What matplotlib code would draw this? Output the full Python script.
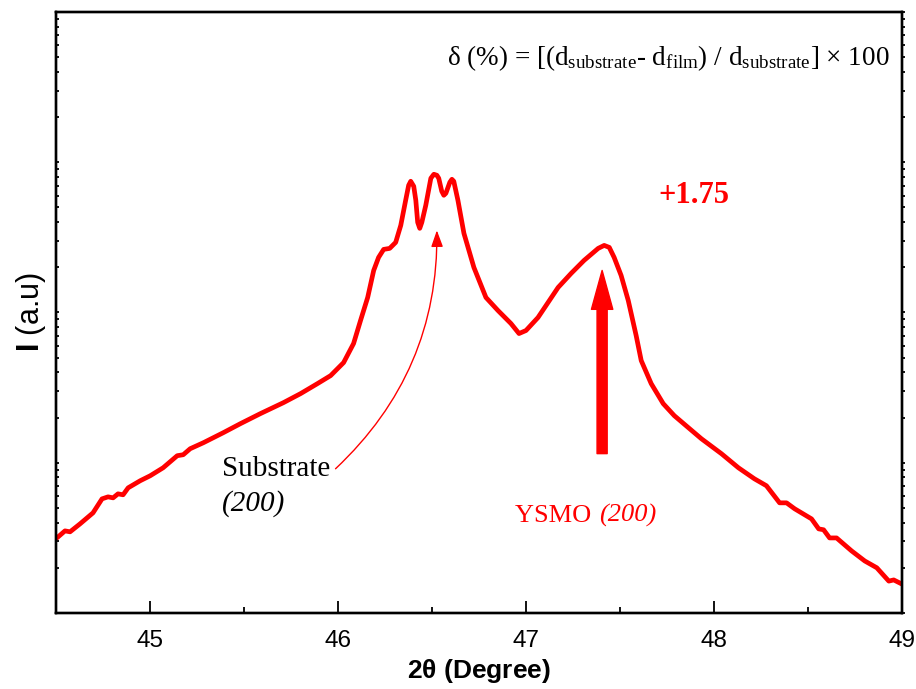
import numpy as np
import matplotlib
matplotlib.use('Agg')
import matplotlib.pyplot as plt
from matplotlib.ticker import LogLocator, NullFormatter, MultipleLocator

# 2θ (degree) 与强度 (a.u.) —— 从图上读取
two_theta = [44.505, 44.548, 44.575, 44.628, 44.697, 44.745, 44.777, 44.804, 44.830, 44.857,
             44.884, 44.948, 45.001, 45.070, 45.145, 45.177, 45.214, 45.284, 45.390, 45.481,
             45.587, 45.710, 45.801, 45.891, 45.961, 46.030, 46.083, 46.120, 46.158, 46.190,
             46.216, 46.243, 46.275, 46.307, 46.334, 46.360, 46.376, 46.387, 46.403, 46.414,
             46.424, 46.435, 46.446, 46.467, 46.494, 46.510, 46.526, 46.536, 46.552, 46.563,
             46.574, 46.595, 46.606, 46.616, 46.638, 46.670, 46.723, 46.787, 46.851, 46.920,
             46.963, 47.000, 47.064, 47.171, 47.240, 47.309, 47.384, 47.416, 47.443, 47.469,
             47.506, 47.544, 47.586, 47.613, 47.666, 47.730, 47.789, 47.864, 47.933, 48.040,
             48.130, 48.215, 48.279, 48.349, 48.386, 48.429, 48.519, 48.557, 48.583, 48.615,
             48.652, 48.732, 48.802, 48.866, 48.930, 48.956, 48.999]
intensity = [31.6, 35.2, 34.7, 39.2, 46.4, 57.5, 59.3, 58.4, 62.1, 61.2,
             68.1, 75.9, 81.9, 92.6, 111.4, 113.1, 124.0, 135.9, 158.5, 182.0,
             212.2, 251.2, 288.4, 336.3, 380.2, 464.2, 621.5, 884.6, 1259, 1905,
             2326, 2630, 2671, 2929, 3802, 5581, 7025, 7470, 6918, 5581,
             3981, 3631, 3981, 5168, 7823, 8318, 8190, 7823, 6408, 6026,
             6215, 7357, 7702, 7470, 5581, 3363, 1995, 1259, 1031, 844.7,
             724.4, 758.6, 926, 1468, 1820, 2222, 2671, 2796, 2712, 2326,
             1765, 1202, 702.5, 478.6, 336.3, 247.4, 205.7, 171.1, 144.5, 114.8,
             92.6, 78.2, 70.3, 54.1, 54.1, 49.4, 42.3, 36.3, 35.8, 31.6,
             31.6, 25.9, 22.2, 20.0, 16.3, 16.6, 15.6]

# 标注用的位置
ysmo_peak = (47.405, 1905)
ysmo_base = (47.405, 115)
sub_peak = (46.526, 3521)
sub_text = (45.987, 91.2)

plt.rcParams['font.family'] = ['Liberation Sans', 'DejaVu Sans']
plt.rcParams['mathtext.fontset'] = 'custom'
plt.rcParams['mathtext.rm'] = 'Liberation Serif'
plt.rcParams['mathtext.it'] = 'Liberation Serif:italic'
plt.rcParams['mathtext.bf'] = 'Liberation Sans:bold'

fig = plt.figure(figsize=(9.16, 6.89), dpi=100)
ax = fig.add_axes([0.0611, 0.1103, 0.9236, 0.8723])

# 主曲线
ax.plot(two_theta, intensity, color='#ff0000', lw=3.4, solid_joinstyle='round',
        solid_capstyle='round')

ax.set_yscale('log')
ax.set_xlim(44.5, 49)
ax.set_ylim(10, 1e5)

# 刻度设置
ax.xaxis.set_major_locator(MultipleLocator(1))
ax.xaxis.set_minor_locator(MultipleLocator(0.5))
ax.tick_params(axis='x', which='major', direction='in', length=8.5, width=1.3,
               labelsize=17.5, pad=12, top=False)
ax.tick_params(axis='x', which='minor', direction='in', length=4.3, width=1.3, top=False)
ax.yaxis.set_major_locator(LogLocator(base=10, subs=[1.0]))
ax.yaxis.set_minor_locator(LogLocator(base=10, subs=np.arange(2, 10)))
ax.yaxis.set_major_formatter(NullFormatter())
ax.yaxis.set_minor_formatter(NullFormatter())
ax.tick_params(axis='y', which='both', direction='in', length=2.5, width=1.3,
               left=True, right=False, labelleft=False)

# 右侧轴的外向刻度
ax_r = ax.twinx()
ax_r.set_yscale('log')
ax_r.set_ylim(ax.get_ylim())
ax_r.yaxis.set_major_locator(LogLocator(base=10, subs=[1.0]))
ax_r.yaxis.set_minor_locator(LogLocator(base=10, subs=np.arange(2, 10)))
ax_r.yaxis.set_major_formatter(NullFormatter())
ax_r.yaxis.set_minor_formatter(NullFormatter())
ax_r.tick_params(axis='y', which='both', direction='out', length=2.5, width=1.3)

for a in (ax, ax_r):
    for s in a.spines.values():
        s.set_linewidth(1.7)

ax.set_xlabel(r'2$\mathbf{\theta}$ (Degree)', fontsize=19, fontweight='bold', labelpad=4)
ax.set_ylabel(r'$\mathbf{I}$ (a.u)', fontsize=22, labelpad=6)

# 公式
ax.text(0.985, 0.923,
        r'δ (%) = [(d$_{\rm substrate}$- d$_{\rm film}$) / d$_{\rm substrate}$] × 100',
        transform=ax.transAxes, ha='right', va='center', fontsize=19.5,
        family=['Liberation Serif', 'DejaVu Serif'])

ax.text(47.704, 6026, '+1.75', color='#ff0000', fontsize=22, fontweight='bold',
        family='Liberation Serif', va='center', ha='left')

# Substrate 标注
ax.text(45.385, 91.2, 'Substrate', fontsize=21, family='Liberation Serif', va='center')
ax.text(45.385, 53.3, '(200)', fontsize=21, family='Liberation Serif', style='italic',
        va='center')
ax.annotate('', xy=sub_peak, xytext=sub_text,
            arrowprops=dict(arrowstyle='-|>,head_length=0.5,head_width=0.18', color='#ff0000',
                            lw=1.0, connectionstyle='arc3,rad=0.22', shrinkA=0, shrinkB=0,
                            mutation_scale=20))

# YSMO 标注
ax.text(47.385, 44.3, 'YSMO ', fontsize=19, family='Liberation Serif', color='#ff0000',
        va='center', ha='right')
ax.text(47.389, 44.3, '(200)', fontsize=19, family='Liberation Serif', color='#ff0000',
        style='italic', va='center', ha='left')
ax.annotate('', xy=ysmo_peak, xytext=ysmo_base,
            arrowprops=dict(arrowstyle='simple,head_length=1.0,head_width=0.55,tail_width=0.26',
                            color='#ff0000', shrinkA=0, shrinkB=0, mutation_scale=28))

fig.savefig('out.png', dpi=100)
